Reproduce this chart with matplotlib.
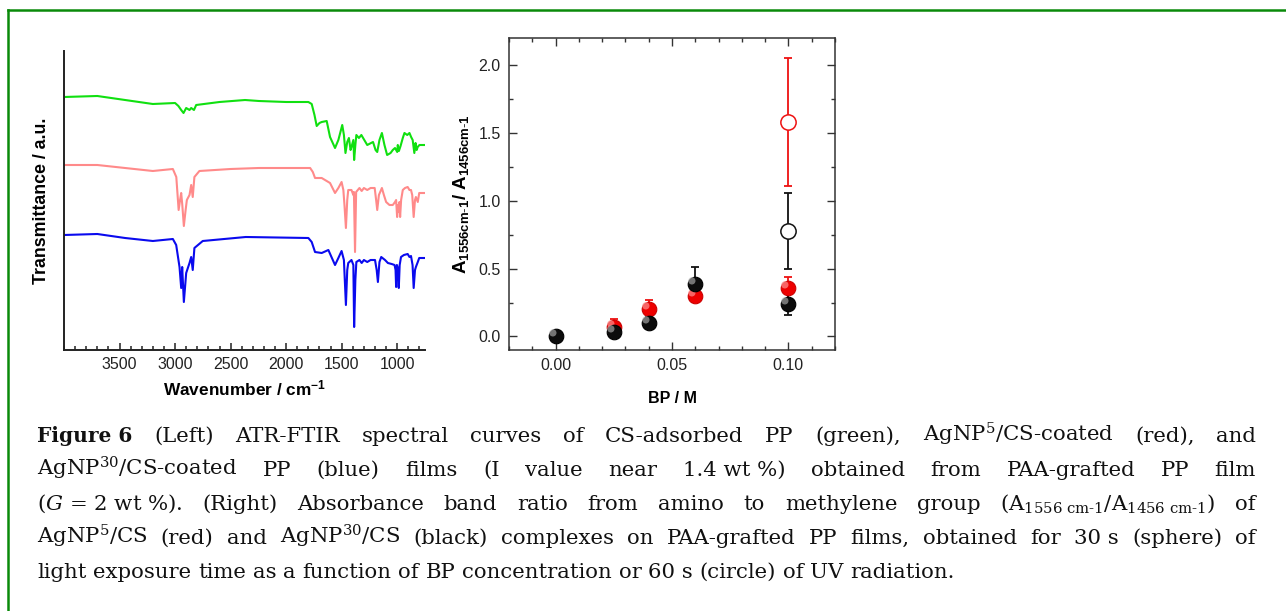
import numpy as np
import matplotlib.pyplot as plt
from matplotlib.lines import Line2D
from matplotlib.path import Path
from matplotlib.ticker import MultipleLocator, NullLocator

plt.rcParams['font.family'] = ['Liberation Sans', 'DejaVu Sans']
plt.rcParams['mathtext.fontset'] = 'custom'
plt.rcParams['mathtext.rm'] = 'DejaVu Serif'
plt.rcParams['mathtext.it'] = 'DejaVu Serif:italic'
plt.rcParams['mathtext.bf'] = 'DejaVu Serif:bold'
plt.rcParams['mathtext.sf'] = 'Liberation Sans:bold'

# ---- left: ATR-FTIR spectra (wavenumber, transmittance a.u., offset traces)
green_wn = [4000, 3700, 3450, 3200, 3000, 2970, 2945, 2924, 2900, 2870, 2855, 2830, 2810,
            2600, 2370, 2245, 2000, 1800, 1770, 1745, 1725, 1700, 1680, 1635, 1605, 1560,
            1530, 1495, 1480, 1466, 1450, 1435, 1420, 1412, 1395, 1388, 1377, 1368, 1345,
            1323, 1270, 1218, 1195, 1180, 1160, 1138, 1115, 1091, 1060, 1040, 1020, 1000,
            995, 985, 970, 950, 935, 910, 890, 875, 861, 846, 835, 825, 816, 800, 772, 755]
green_t = [2.53, 2.54, 2.50, 2.46, 2.47, 2.44, 2.40, 2.37, 2.42, 2.40, 2.42, 2.40, 2.45,
           2.48, 2.50, 2.49, 2.48, 2.48, 2.46, 2.35, 2.24, 2.27, 2.28, 2.29, 2.13, 2.02,
           2.10, 2.25, 2.15, 1.97, 2.08, 2.12, 2.00, 2.03, 2.10, 1.90, 2.05, 2.15, 2.12,
           2.15, 2.05, 2.08, 2.00, 1.98, 2.10, 2.17, 2.05, 1.95, 1.97, 2.00, 2.02, 1.98,
           2.05, 1.99, 2.04, 2.12, 2.17, 2.15, 2.17, 2.13, 2.10, 1.97, 2.07, 2.00, 2.03,
           2.05, 2.05, 2.05]

red_wn = [4000, 3700, 3450, 3200, 3020, 2989, 2968, 2955, 2945, 2935, 2921, 2905, 2894,
          2870, 2855, 2841, 2826, 2781, 2500, 2245, 2000, 1784, 1760, 1740, 1680, 1605,
          1560, 1530, 1501, 1485, 1475, 1462, 1450, 1441, 1412, 1395, 1390, 1380, 1370,
          1340, 1320, 1300, 1270, 1240, 1203, 1190, 1180, 1165, 1138, 1120, 1100, 1070,
          1040, 1020, 1010, 1001, 993, 986, 980, 974, 965, 950, 930, 906, 890, 876, 865,
          852, 840, 832, 815, 802, 772, 755]
red_t = [1.85, 1.85, 1.82, 1.79, 1.81, 1.73, 1.40, 1.50, 1.57, 1.45, 1.24, 1.40, 1.50,
         1.55, 1.65, 1.53, 1.73, 1.79, 1.81, 1.82, 1.82, 1.82, 1.78, 1.72, 1.72, 1.67,
         1.57, 1.62, 1.68, 1.60, 1.45, 1.22, 1.50, 1.60, 1.60, 1.55, 1.58, 0.98, 1.58,
         1.62, 1.59, 1.62, 1.60, 1.62, 1.62, 1.50, 1.40, 1.55, 1.62, 1.55, 1.48, 1.45,
         1.45, 1.48, 1.50, 1.33, 1.45, 1.38, 1.48, 1.33, 1.50, 1.60, 1.62, 1.63, 1.60,
         1.60, 1.55, 1.33, 1.50, 1.53, 1.48, 1.57, 1.57, 1.57]

blue_wn = [4000, 3700, 3450, 3200, 3020, 2990, 2960, 2945, 2936, 2921, 2900, 2870, 2855,
           2841, 2826, 2751, 2364, 1800, 1770, 1740, 1680, 1620, 1560, 1530, 1501, 1480,
           1462, 1450, 1441, 1412, 1395, 1388, 1377, 1368, 1340, 1320, 1300, 1270, 1240,
           1200, 1185, 1174, 1160, 1144, 1110, 1084, 1050, 1024, 1015, 1010, 1003, 995,
           986, 978, 966, 940, 906, 890, 876, 862, 852, 840, 832, 815, 802, 772, 755]
blue_t = [1.15, 1.16, 1.12, 1.09, 1.11, 1.05, 0.83, 0.62, 0.83, 0.48, 0.77, 0.87, 0.93,
          0.80, 1.02, 1.09, 1.13, 1.12, 1.08, 0.98, 0.97, 1.00, 0.85, 0.92, 0.99, 0.90,
          0.45, 0.80, 0.87, 0.90, 0.85, 0.23, 0.70, 0.88, 0.90, 0.87, 0.90, 0.88, 0.90,
          0.90, 0.80, 0.68, 0.88, 0.93, 0.90, 0.87, 0.86, 0.85, 0.80, 0.63, 0.85, 0.82,
          0.62, 0.85, 0.93, 0.95, 0.96, 0.93, 0.94, 0.85, 0.62, 0.80, 0.83, 0.88, 0.92,
          0.92, 0.92]

# ---- right: band ratio vs BP concentration
bp_black = [0.0, 0.025, 0.04, 0.06, 0.10]
ratio_black = [0.0, 0.035, 0.10, 0.385, 0.24]
err_black = [0.01, 0.02, 0.04, 0.13, 0.08]
bp_red = [0.025, 0.04, 0.06, 0.10]
ratio_red = [0.07, 0.20, 0.30, 0.355]
err_red = [0.06, 0.07, 0.045, 0.085]
bp_open = [0.10]
ratio_open_red, err_open_red = [1.58], [0.47]
ratio_open_black, err_open_black = [0.78], [0.28]

W, H = 1286, 611
fig = plt.figure(figsize=(W / 100, H / 100), dpi=100)


def fx(px):
    return px / W


def fy(py):
    return 1 - py / H


# green frame (open on right and bottom)
frame_c = '#0a8a0a'
fig.add_artist(Line2D([fx(8), fx(8)], [fy(10), 0], transform=fig.transFigure, color=frame_c, lw=1.8))
fig.add_artist(Line2D([fx(8), 1], [fy(10), fy(10)], transform=fig.transFigure, color=frame_c, lw=1.8))

# ---------- left panel
ax1 = fig.add_axes([fx(64), fy(350), fx(425) - fx(64), fy(51) - fy(350)])
ax1.plot(green_wn, green_t, color='#10e010', lw=1.5)
ax1.plot(red_wn, red_t, color='#ff8a8a', lw=1.5)
ax1.plot(blue_wn, blue_t, color='#0a0aee', lw=1.5)
ax1.set_xlim(4000, 750)
ax1.set_ylim(0, 2.99)
ax1.spines[['top', 'right']].set_visible(False)
for s in ['left', 'bottom']:
    ax1.spines[s].set_linewidth(1.4)
    ax1.spines[s].set_color('#222222')
ax1.xaxis.set_major_locator(MultipleLocator(500))
ax1.xaxis.set_minor_locator(MultipleLocator(100))
ax1.yaxis.set_major_locator(NullLocator())
ax1.tick_params(axis='x', which='both', direction='in', color='#222222', width=1.1)
ax1.tick_params(axis='x', which='major', length=5, labelsize=11.5, labelcolor='#222222', pad=5)
ax1.tick_params(axis='x', which='minor', length=3)
ax1.set_xticks([3500, 3000, 2500, 2000, 1500, 1000])
ax1.set_xlabel('Wavenumber / cm$^{\\mathsf{-1}}$', fontsize=12.4, fontweight='bold', labelpad=5)
ax1.set_ylabel('Transmittance / a.u.', fontsize=12.8, fontweight='bold', labelpad=10)

# ---------- right panel
ax2 = fig.add_axes([fx(509), fy(350), fx(835) - fx(509), fy(38) - fy(350)])
ek = dict(fmt='none', capsize=3, elinewidth=1.3, capthick=1.3, zorder=2)
ax2.errorbar(bp_open, ratio_open_red, yerr=err_open_red, ecolor='#ee1111', **ek)
ax2.errorbar(bp_open, ratio_open_black, yerr=err_open_black, ecolor='#111111', **ek)
ax2.errorbar(bp_red, ratio_red, yerr=err_red, ecolor='#ee1111', **ek)
ax2.errorbar(bp_black, ratio_black, yerr=err_black, ecolor='#111111', **ek)
ax2.plot(bp_open, ratio_open_red, 'o', ms=11, mfc='white', mec='#ee1111', mew=1.1, zorder=3)
ax2.plot(bp_open, ratio_open_black, 'o', ms=11, mfc='white', mec='#111111', mew=1.1, zorder=3)

# spheres: dark disc plus a soft highlight toward the upper left
hl = Path.circle(center=(-0.3, 0.3), radius=0.3)
ax2.plot(bp_red, ratio_red, 'o', ms=10.5, mfc='#ee0000', mec='#cc0000', mew=0.8, zorder=4)
ax2.plot(bp_red, ratio_red, ls='none', marker=hl, ms=10.5, mfc='#ff9090', mec='none', alpha=0.7, zorder=5)
ax2.plot(bp_black, ratio_black, 'o', ms=10.5, mfc='#0c0c0c', mec='#000000', mew=0.8, zorder=6)
ax2.plot(bp_black, ratio_black, ls='none', marker=hl, ms=10.5, mfc='#bbbbbb', mec='none', alpha=0.6, zorder=7)

ax2.set_xlim(-0.02, 0.12)
ax2.set_ylim(-0.1, 2.2)
ax2.set_xticks([0.0, 0.05, 0.10])
ax2.set_xticklabels(['0.00', '0.05', '0.10'])
ax2.set_yticks([0.0, 0.5, 1.0, 1.5, 2.0])
ax2.set_yticklabels(['0.0', '0.5', '1.0', '1.5', '2.0'])
ax2.xaxis.set_minor_locator(MultipleLocator(0.01))
ax2.yaxis.set_minor_locator(MultipleLocator(0.25))
ax2.tick_params(which='both', direction='in', top=True, right=True, color='#333333', width=1.0)
ax2.tick_params(which='major', length=6, labelsize=11.5, labelcolor='#222222', pad=6)
ax2.tick_params(which='minor', length=3)
for s in ax2.spines.values():
    s.set_color('#333333')
    s.set_linewidth(1.1)
ax2.set_xlabel('BP / M', fontsize=11.5, fontweight='bold', labelpad=13)
ax2.set_ylabel('A$_{\\mathsf{1556cm\\text{-}1}}$/ A$_{\\mathsf{1456cm\\text{-}1}}$', fontsize=13.5,
               fontweight='bold', labelpad=5)

# ---------- caption (justified lines)
cap_x0, cap_x1 = 37, 1256
cap_fs = 15.3
space_px = 0.318 * cap_fs * 100 / 72
cap_lines = [
    (442, ['Figure 6', '(Left)', 'ATR-FTIR', 'spectral', 'curves', 'of', 'CS-adsorbed', 'PP', '(green),',
           'AgNP$^{5}$/CS-coated', '(red),', 'and'], True),
    (476, ['AgNP$^{30}$/CS-coated', 'PP', '(blue)', 'films', '(I', 'value', 'near', '1.4 wt %)', 'obtained',
           'from', 'PAA-grafted', 'PP', 'film'], True),
    (510, ['($G$ = 2 wt %).', '(Right)', 'Absorbance', 'band', 'ratio', 'from', 'amino', 'to', 'methylene',
           'group', '(A$_{1556\\ \\mathrm{cm}\\text{-}1}$/A$_{1456\\ \\mathrm{cm}\\text{-}1}$)', 'of'], True),
    (544, ['AgNP$^{5}$/CS', '(red)', 'and', 'AgNP$^{30}$/CS', '(black)', 'complexes', 'on', 'PAA-grafted',
           'PP', 'films,', 'obtained', 'for', '30 s', '(sphere)', 'of'], True),
    (578, ['light', 'exposure', 'time', 'as', 'a', 'function', 'of', 'BP', 'concentration', 'or', '60 s',
           '(circle)', 'of', 'UV', 'radiation.'], False),
]
renderer = fig.canvas.get_renderer()
for base_y, words, justify in cap_lines:
    texts = []
    for w in words:
        if w == 'Figure 6':
            t = fig.text(0, fy(base_y), w, fontsize=14.5, fontweight='bold', family='DejaVu Serif',
                         va='baseline', color='#111111')
        else:
            t = fig.text(0, fy(base_y), w, fontsize=cap_fs, family='DejaVu Serif', va='baseline',
                         color='#111111')
        texts.append(t)
    widths = [t.get_window_extent(renderer).width for t in texts]
    if justify:
        gap = max((cap_x1 - cap_x0 - sum(widths)) / (len(words) - 1), space_px * 0.6)
    else:
        gap = space_px
    x = cap_x0
    for t, wd in zip(texts, widths):
        t.set_x(fx(x))
        x += wd + gap

fig.savefig('out.png', dpi=100)
